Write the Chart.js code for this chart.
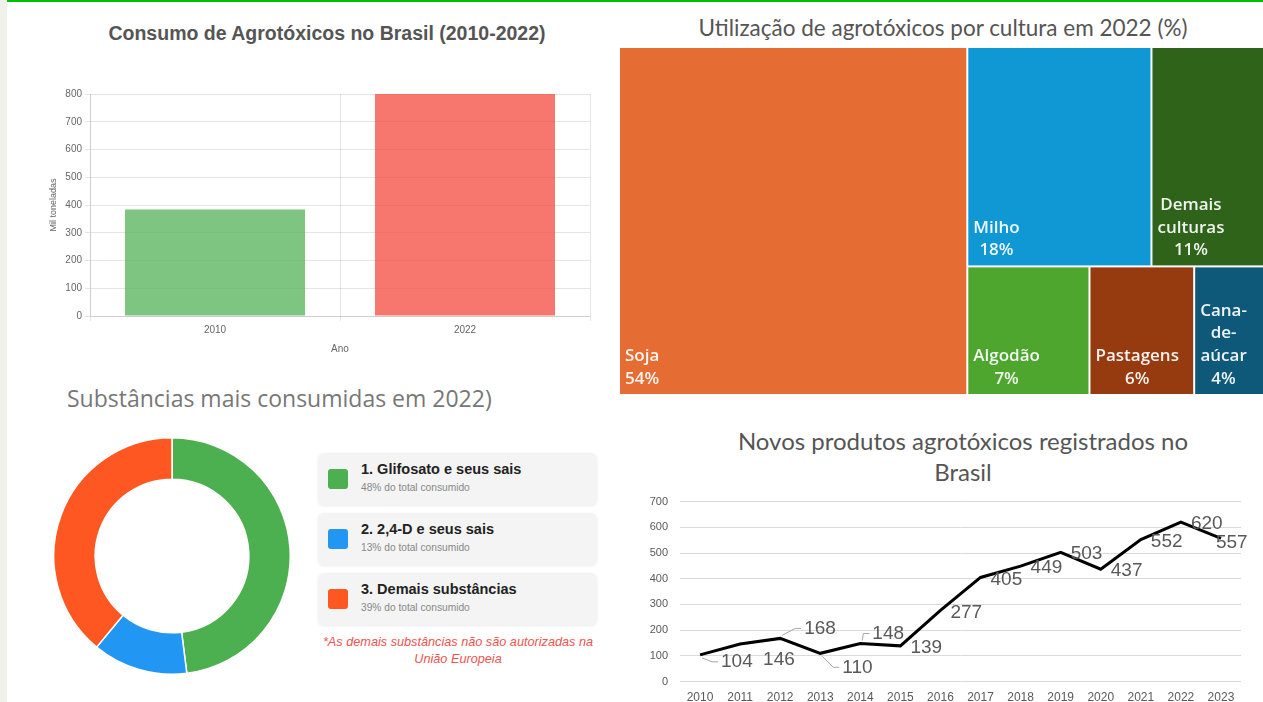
<!DOCTYPE html>
<html lang="pt-BR">
<head>
<meta charset="utf-8">
<title>Agrotóxicos no Brasil</title>
<script src="https://cdn.jsdelivr.net/npm/chart.js@4.4.1/dist/chart.umd.min.js"></script>
<style>
  body{margin:0;width:1263px;height:702px;overflow:hidden;background:#fff;position:relative;font-family:"Liberation Sans",Arial,sans-serif;}
  .abs{position:absolute;}
  #strip{left:0;top:0;width:7px;height:702px;background:#f1f1ec;}
  #topline{left:7px;top:0;width:1256px;height:2px;background:#00c000;}
  #t1{left:27px;top:21px;width:600px;text-align:center;font:bold 19.5px/24px "Liberation Sans",Arial,sans-serif;color:#555;}
  #t2{left:643px;top:14px;width:600px;text-align:center;font:22.5px/28px Lato,sans-serif;color:#555;}
  #t3{left:67px;top:383px;font:23px/30px "Open Sans",sans-serif;color:#777;white-space:nowrap;}
  #t4{left:663px;top:425px;width:600px;text-align:center;font:24px/31px Lato,sans-serif;color:#555;}
  .card{position:absolute;left:318px;width:279px;height:52px;background:#f4f4f4;border-radius:6px;box-shadow:0 1px 3px rgba(0,0,0,0.08);}
  .card .sq{position:absolute;left:10px;top:16px;width:20px;height:20px;border-radius:3px;}
  .card .nm{position:absolute;left:43px;top:7px;font:bold 14.5px/18px "Liberation Sans",Arial,sans-serif;color:#222;white-space:nowrap;}
  .card .pc{position:absolute;left:43px;top:28px;font:10.2px/14px "Liberation Sans",Arial,sans-serif;color:#888;white-space:nowrap;}
  #nota{left:298px;top:634px;width:320px;text-align:center;font:italic 12.7px/17px "Liberation Sans",Arial,sans-serif;color:#ef5350;}
</style>
</head>
<body>
<div id="strip" class="abs"></div>
<div id="topline" class="abs"></div>

<div id="t1" class="abs">Consumo de Agrotóxicos no Brasil (2010-2022)</div>
<canvas id="cConsumo" class="abs" style="left:40px;top:80px" width="560" height="280"></canvas>

<div id="t2" class="abs">Utilização de agrotóxicos por cultura em 2022 (%)</div>
<canvas id="cCultura" class="abs" style="left:619px;top:47px" width="645" height="348"></canvas>

<div id="t3" class="abs">Substâncias mais consumidas em 2022)</div>
<canvas id="cSubst" class="abs" style="left:53px;top:437px" width="238" height="238"></canvas>
<div id="legenda"></div>
<div id="nota" class="abs">*As demais substâncias não são autorizadas na<br>União Europeia</div>

<div id="t4" class="abs">Novos produtos agrotóxicos registrados no<br>Brasil</div>
<canvas id="cRegistro" class="abs" style="left:630px;top:483px" width="620" height="231"></canvas>

<script>
// consumo total, mil toneladas
var consumo_anos = ['2010', '2022'];
var consumo_valores = [384, 800];

// uso por cultura em 2022 (%)
var cultura_nomes = ['Soja', 'Milho', 'Demais culturas', 'Algodão', 'Pastagens', 'Cana-de-aúcar'];
var cultura_pct = [54, 18, 11, 7, 6, 4];

// substancias mais consumidas em 2022 (%)
var subst_nomes = ['Glifosato e seus sais', '2,4-D e seus sais', 'Demais substâncias'];
var subst_pct = [48, 13, 39];

// novos produtos registrados
var reg_anos = ['2010','2011','2012','2013','2014','2015','2016','2017','2018','2019','2020','2021','2022','2023'];
var reg_valores = [104, 146, 168, 110, 148, 139, 277, 405, 449, 503, 437, 552, 620, 557];

var cultura_cores = ['#e56c33', '#0f98d4', '#2e6319', '#4ea62e', '#963b10', '#0e597a'];
var subst_cores = ['#4caf50', '#2196f3', '#ff5722'];

Chart.defaults.font.family = "'Liberation Sans', Arial, sans-serif";

// ---------- barras ----------
new Chart(document.getElementById('cConsumo'), {
  type: 'bar',
  data: {
    labels: consumo_anos,
    datasets: [{
      data: consumo_valores,
      backgroundColor: ['rgba(76,175,80,0.72)', 'rgba(244,67,54,0.72)'],
      borderWidth: 0
    }]
  },
  options: {
    responsive: false,
    animation: false,
    layout: {padding: {top: 14, right: 10, bottom: 1, left: 0}},
    plugins: {legend: {display: false}, tooltip: {enabled: false}},
    scales: {
      x: {
        grid: {color: 'rgba(0,0,0,0.1)', tickLength: 5},
        ticks: {color: '#666', font: {size: 10}, padding: 3},
        title: {display: true, text: 'Ano', color: '#666', font: {size: 10}}
      },
      y: {
        min: 0, max: 800,
        grid: {color: 'rgba(0,0,0,0.1)', tickLength: 5},
        ticks: {stepSize: 100, color: '#666', font: {size: 10}, padding: 3},
        title: {display: true, text: 'Mil toneladas', color: '#666', font: {size: 9}, padding: {top: 8, bottom: 4}},
        afterFit: function(s){ s.width = 50; }
      }
    }
  }
});

// ---------- treemap (squarify) ----------
function worst(row, side){
  var s = 0, mx = 0, mn = Infinity;
  for (var i = 0; i < row.length; i++){ s += row[i]; mx = Math.max(mx, row[i]); mn = Math.min(mn, row[i]); }
  return Math.max(side*side*mx/(s*s), (s*s)/(side*side*mn));
}
function squarify(values, x, y, w, h){
  var total = 0;
  values.forEach(function(v){ total += v; });
  var areas = values.map(function(v){ return v * w * h / total; });
  var rects = [];
  var i = 0;
  while (i < areas.length){
    var side = Math.min(w, h);
    var row = [areas[i]];
    var j = i + 1;
    while (j < areas.length && worst(row.concat([areas[j]]), side) <= worst(row, side)){
      row.push(areas[j]); j++;
    }
    var sum = 0;
    row.forEach(function(a){ sum += a; });
    if (w >= h){
      var cw = sum / h, yy = y;
      row.forEach(function(a){ var rh = a / cw; rects.push({x: x, y: yy, w: cw, h: rh}); yy += rh; });
      x += cw; w -= cw;
    } else {
      var rh = sum / w, xx = x;
      row.forEach(function(a){ var rw = a / rh; rects.push({x: xx, y: y, w: rw, h: rh}); xx += rw; });
      y += rh; h -= rh;
    }
    i = j;
  }
  return rects;
}
function wrapLabel(ctx, text, maxW){
  var tokens = text.split(/(?<=-)|\s+/);
  var lines = [], line = tokens[0];
  for (var i = 1; i < tokens.length; i++){
    var sep = line.endsWith('-') ? '' : ' ';
    var test = line + sep + tokens[i];
    if (ctx.measureText(test).width <= maxW) line = test;
    else { lines.push(line); line = tokens[i]; }
  }
  lines.push(line);
  return lines;
}

var treemapPlugin = {
  id: 'treemap',
  afterDatasetsDraw: function(chart){
    var ctx = chart.ctx;
    var sx = chart.scales.x, sy = chart.scales.y;
    var x0 = sx.getPixelForValue(0), x1 = sx.getPixelForValue(100);
    var y0 = sy.getPixelForValue(100), y1 = sy.getPixelForValue(0);
    var rects = squarify(cultura_pct, x0, y0, x1 - x0, y1 - y0);
    ctx.save();
    ctx.font = '600 17px "Open Sans", sans-serif';
    rects.forEach(function(r, i){
      ctx.fillStyle = cultura_cores[i];
      ctx.fillRect(r.x + 1, r.y + 1, r.w - 2, r.h - 2);
      var lines = wrapLabel(ctx, cultura_nomes[i], r.w - 9);
      lines.push(cultura_pct[i] + '%');
      var bw = 0;
      lines.forEach(function(l){ bw = Math.max(bw, ctx.measureText(l).width); });
      var cx = r.x + 6 + bw / 2;
      ctx.fillStyle = 'rgba(255,255,255,0.93)';
      ctx.textAlign = 'center';
      ctx.textBaseline = 'middle';
      var lh = 22.7;
      var last = r.y + r.h - 16;
      lines.forEach(function(l, k){
        ctx.fillText(l, cx, last - (lines.length - 1 - k) * lh);
      });
    });
    ctx.restore();
  }
};

new Chart(document.getElementById('cCultura'), {
  type: 'scatter',
  data: {datasets: [{data: []}]},
  options: {
    responsive: false,
    animation: false,
    layout: {padding: 0},
    plugins: {legend: {display: false}, tooltip: {enabled: false}},
    scales: {
      x: {type: 'linear', min: 0, max: 100, display: false},
      y: {type: 'linear', min: 0, max: 100, display: false}
    }
  },
  plugins: [treemapPlugin]
});

// ---------- rosca ----------
new Chart(document.getElementById('cSubst'), {
  type: 'doughnut',
  data: {
    labels: subst_nomes,
    datasets: [{data: subst_pct, backgroundColor: subst_cores, borderColor: '#fff', borderWidth: 1.5}]
  },
  options: {
    responsive: false,
    animation: false,
    cutout: '65%',
    layout: {padding: 0},
    plugins: {legend: {display: false}, tooltip: {enabled: false}}
  }
});

// legenda em cartoes
var leg = document.getElementById('legenda');
subst_nomes.forEach(function(n, i){
  var c = document.createElement('div');
  c.className = 'card';
  c.style.top = (453 + i * 60) + 'px';
  c.innerHTML = '<div class="sq" style="background:' + subst_cores[i] + '"></div>' +
    '<div class="nm">' + (i + 1) + '. ' + n + '</div>' +
    '<div class="pc">' + subst_pct[i] + '% do total consumido</div>';
  leg.appendChild(c);
});

// ---------- linha ----------
// deslocamento dos rotulos [dx, dy, linha guia]
var reg_nudge = {0: [21, 7, true], 1: [23, 16, false], 2: [24, -10, true], 3: [22, 14, true], 4: [12, -10, true], 13: [-5, 4, false]};

var rotulosPlugin = {
  id: 'rotulos',
  afterDatasetsDraw: function(chart){
    var ctx = chart.ctx;
    var meta = chart.getDatasetMeta(0);
    ctx.save();
    ctx.font = '19px "Liberation Sans", Arial, sans-serif';
    ctx.textAlign = 'left';
    ctx.textBaseline = 'middle';
    meta.data.forEach(function(pt, i){
      var n = reg_nudge[i] || [10, 2, false];
      var lx = pt.x + n[0], ly = pt.y + n[1];
      if (n[2]){
        ctx.strokeStyle = '#a6a6a6';
        ctx.lineWidth = 1;
        ctx.beginPath();
        ctx.moveTo(pt.x + 2, pt.y + (n[1] > 0 ? 3 : -3));
        ctx.lineTo(lx - 9, ly);
        ctx.lineTo(lx - 3, ly);
        ctx.stroke();
      }
      ctx.fillStyle = '#595959';
      ctx.fillText(String(reg_valores[i]), lx, ly);
    });
    ctx.restore();
  }
};

new Chart(document.getElementById('cRegistro'), {
  type: 'line',
  data: {
    labels: reg_anos,
    datasets: [{data: reg_valores, borderColor: '#000', borderWidth: 3, pointRadius: 0, tension: 0, fill: false}]
  },
  options: {
    responsive: false,
    animation: false,
    layout: {padding: {top: 11, right: 9, bottom: 0, left: 0}},
    plugins: {legend: {display: false}, tooltip: {enabled: false}},
    scales: {
      x: {
        offset: true,
        grid: {display: false, drawTicks: false},
        border: {display: false},
        ticks: {color: '#595959', font: {size: 12}, padding: 9, autoSkip: false, maxRotation: 0}
      },
      y: {
        min: 0, max: 700,
        grid: {color: '#d9d9d9', drawTicks: false},
        border: {display: false},
        ticks: {stepSize: 100, color: '#595959', font: {size: 11}, padding: 12},
        afterFit: function(s){ s.width = 50; }
      }
    }
  },
  plugins: [rotulosPlugin]
});
</script>
</body>
</html>
